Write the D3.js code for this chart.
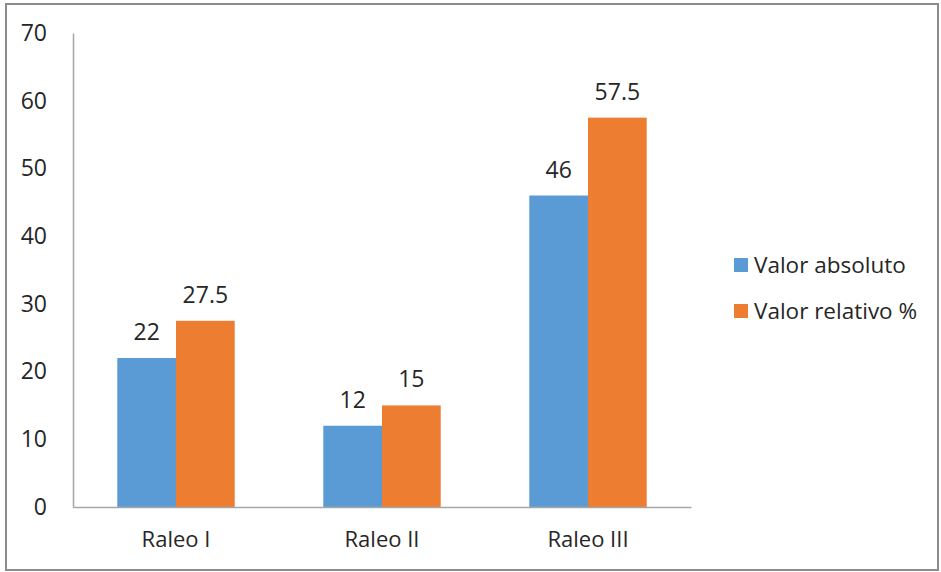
<!DOCTYPE html>
<html lang="es">
<head>
    <meta charset="UTF-8">
    <title>Raleo</title>
    <style>
        body {
            margin: 0;
            background: #fff;
            font-family: 'Open Sans', 'Segoe UI', sans-serif;
        }
        .tick text, .lbl, .legend text {
            fill: #262626;
        }
    </style>
</head>
<body>
    <svg id="chart" width="941" height="572"></svg>

    <script src="https://d3js.org/d3.v7.min.js"></script>
    <script>
        const categories = ["Raleo I", "Raleo II", "Raleo III"];
        const seriesNames = ["Valor absoluto", "Valor relativo %"];
        const absoluto = [22, 12, 46];
        const relativo = [27.5, 15, 57.5];
        const yTicks = [0, 10, 20, 30, 40, 50, 60, 70];
        const colors = ["#5B9BD5", "#ED7D31"];

        const rows = categories.map((c, i) => ({ cat: c, vals: [absoluto[i], relativo[i]] }));

        const svg = d3.select("#chart");

        // outer frame
        svg.append("rect")
            .attr("x", 6).attr("y", 4)
            .attr("width", 932).attr("height", 566)
            .attr("fill", "none")
            .attr("stroke", "#8c8c8c")
            .attr("stroke-width", 2);

        const plotLeft = 73, plotRight = 691, plotTop = 33, plotBottom = 507;

        const y = d3.scaleLinear().domain([0, 70]).range([plotBottom, plotTop]);
        const x0 = d3.scaleBand().domain(categories).range([plotLeft, plotRight]).paddingInner(0.43).paddingOuter(0.215);
        const x1 = d3.scaleBand().domain([0, 1]).range([0, x0.bandwidth()]);

        // y axis labels
        const yAxis = svg.append("g")
            .attr("transform", `translate(${plotLeft},0)`)
            .call(d3.axisLeft(y).tickValues(yTicks).tickSize(0).tickPadding(26));
        yAxis.select(".domain").attr("stroke", "#a6a6a6").attr("stroke-width", 1.5);
        yAxis.selectAll("text").style("font-size", "23px").style("font-family", "'Open Sans', sans-serif");

        // bars
        const groups = svg.selectAll(".grp")
            .data(rows)
            .enter().append("g")
            .attr("class", "grp")
            .attr("transform", d => `translate(${x0(d.cat)},0)`);

        groups.selectAll("rect")
            .data(d => d.vals.map((v, k) => ({ k, v })))
            .enter().append("rect")
            .attr("x", d => x1(d.k))
            .attr("y", d => y(d.v))
            .attr("width", x1.bandwidth())
            .attr("height", d => plotBottom - y(d.v))
            .attr("fill", d => colors[d.k]);

        groups.selectAll(".lbl")
            .data(d => d.vals.map((v, k) => ({ k, v })))
            .enter().append("text")
            .attr("class", "lbl")
            .attr("x", d => x1(d.k) + x1.bandwidth() / 2)
            .attr("y", d => y(d.v) - 18)
            .attr("text-anchor", "middle")
            .style("font-size", "23px")
            .text(d => d.v);

        // x axis
        const xAxis = svg.append("g")
            .attr("transform", `translate(0,${plotBottom})`)
            .call(d3.axisBottom(x0).tickSize(0).tickPadding(24).tickSizeOuter(0));
        xAxis.select(".domain").attr("stroke", "#a6a6a6").attr("stroke-width", 1.5);
        xAxis.selectAll("text").style("font-size", "22px").style("font-family", "'Open Sans', sans-serif");

        // legend
        const legend = svg.append("g").attr("class", "legend")
            .attr("transform", "translate(734,0)");
        const items = legend.selectAll("g")
            .data(seriesNames)
            .enter().append("g")
            .attr("transform", (d, i) => `translate(0,${265 + i * 46})`);
        items.append("rect")
            .attr("x", 0).attr("y", -7)
            .attr("width", 14).attr("height", 14)
            .attr("fill", (d, i) => colors[i]);
        items.append("text")
            .attr("x", 20).attr("y", 0)
            .attr("dy", "0.35em")
            .style("font-size", "22.5px")
            .text(d => d);
    </script>
</body>
</html>
